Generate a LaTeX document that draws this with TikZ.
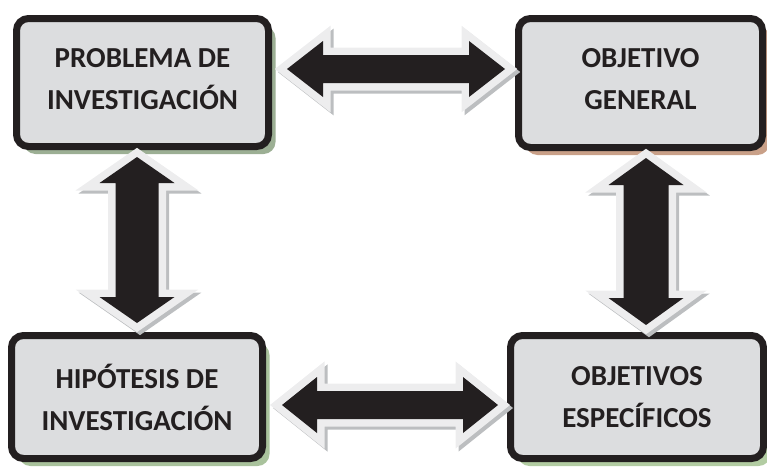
\documentclass[tikz,border=0pt]{standalone}
\usepackage{fontspec}
\setmainfont{Carlito}
\usetikzlibrary{calc,shadows}
\definecolor{boxgray}{HTML}{DCDDDF}
\definecolor{ink}{HTML}{231F20}
\definecolor{arrowline}{HTML}{EDEDEE}
\definecolor{arrowshade}{HTML}{BCBEC0}
\definecolor{shadeA}{HTML}{9CAF94}
\definecolor{shadeB}{HTML}{C9A088}
\definecolor{shadeC}{HTML}{A9C29C}
\definecolor{shadeD}{HTML}{B2CCA2}
\tikzset{
  caja/.style={ draw=ink, line width=7pt, rounded corners=12pt, fill=boxgray, text=ink,
    align=center, font=\fontsize{29}{42}\selectfont\bfseries }
}
\tikzset{
  sombra/.style={ drop shadow={shadow xshift=7pt, shadow yshift=-7.5pt, fill=#1, opacity=1} }
}
\tikzset{
  flecha/.style={ fill=ink,
    preaction={draw=arrowshade, line width=15pt, transform canvas={xshift=3pt, yshift=-3pt}},
    preaction={draw=arrowline, line width=15pt} }
}
% double block arrow between two tips: half shaft, half head, head length
\newcommand{\dblarrow}[5]{%
  \path[flecha] (#1)
    -- ($(#1)!#5!(#2)!#4!90:(#2)$)
    -- ($(#1)!#5!(#2)!#3!90:(#2)$)
    -- ($(#2)!#5!(#1)!#3!-90:(#1)$)
    -- ($(#2)!#5!(#1)!#4!-90:(#1)$)
    -- (#2)
    -- ($(#2)!#5!(#1)!#4!90:(#1)$)
    -- ($(#2)!#5!(#1)!#3!90:(#1)$)
    -- ($(#1)!#5!(#2)!#3!-90:(#2)$)
    -- ($(#1)!#5!(#2)!#4!-90:(#2)$)
    -- cycle;
}

\begin{document}
\begin{tikzpicture}[x=1pt, y=-1pt]
      \useasboundingbox (0,0) rectangle (767,466);

      \node[caja, sombra=shadeA, minimum width=252pt, minimum height=128pt] (prob) at (142.5, 82.5) {PROBLEMA DE\\INVESTIGACIÓN\\[-34pt]};
      \node[caja, sombra=shadeB, minimum width=244pt, minimum height=129pt] (objgen) at (640.5, 83) {OBJETIVO\\GENERAL\\[-34pt]};
      \node[caja, sombra=shadeC, minimum width=251pt, minimum height=123pt] (hipo) at (137, 397) {HIPÓTESIS DE\\INVESTIGACIÓN};
      \node[caja, sombra=shadeD, minimum width=253pt, minimum height=123pt] (objesp) at (637, 397) {OBJETIVOS\\ESPECÍFICOS};

      \coordinate (t1) at ([xshift=15pt, yshift=13.5pt]prob.east);
      \coordinate (t2) at ([xshift=-10pt, yshift=14pt]objgen.west);
      \coordinate (t3) at ([xshift=-5.5pt, yshift=-7pt]prob.south);
      \coordinate (t4) at ([yshift=9pt]hipo.north);
      \coordinate (t5) at ([xshift=5.5pt, yshift=-7pt]objgen.south);
      \coordinate (t6) at ([xshift=9pt, yshift=7pt]objesp.north);
      \coordinate (t7) at ([xshift=16pt, yshift=-8pt]hipo.east);
      \coordinate (t8) at ([xshift=-9pt, yshift=-8pt]objesp.west);

      \dblarrow{t1}{t2}{14pt}{28pt}{36pt}
      \dblarrow{t3}{t4}{21.5pt}{37.5pt}{26pt}
      \dblarrow{t5}{t6}{22.5pt}{37.5pt}{27pt}
      \dblarrow{t7}{t8}{14pt}{28pt}{35pt}
    \end{tikzpicture}
\end{document}
